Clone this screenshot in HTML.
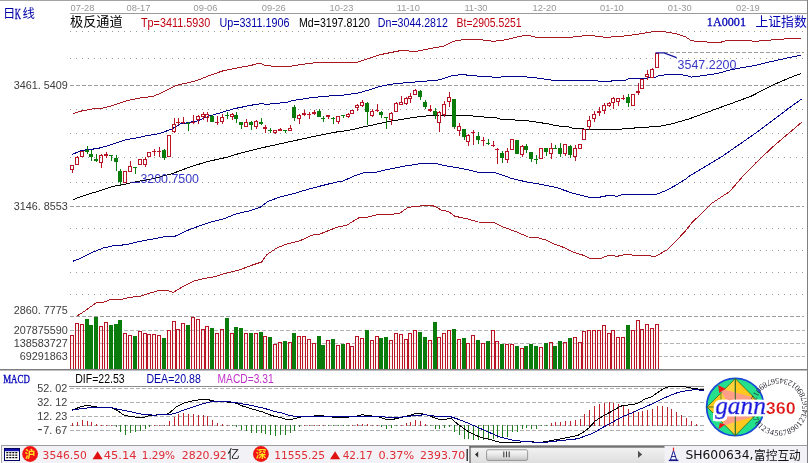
<!DOCTYPE html>
<html lang="zh"><head><meta charset="utf-8"><title>chart</title>
<style>
html,body{margin:0;padding:0;background:#fff;overflow:hidden}
svg{display:block}
.ls{font-family:"Liberation Sans",sans-serif}
.dv{font-family:"DejaVu Sans","Liberation Sans",sans-serif}
.sf{font-family:"Liberation Serif","Noto Serif CJK SC",serif}
.cj{font-family:"Liberation Serif","Noto Sans CJK SC",sans-serif}
.cs{font-family:"DejaVu Sans","Noto Sans CJK SC",sans-serif}
</style></head><body>
<svg width="809" height="463" viewBox="0 0 809 463">
<rect x="0" y="0" width="809" height="463" fill="#ffffff"/>
<line x1="0" y1="0.5" x2="807" y2="0.5" stroke="#a4a4a4" stroke-width="1"/>
<line x1="70" y1="13.5" x2="807" y2="13.5" stroke="#9a9a9a" stroke-width="1"/>
<line x1="807.5" y1="0" x2="807.5" y2="463" stroke="#808080" stroke-width="1"/>
<rect x="71" y="336" width="2" height="33" fill="#fff2f2"/>
<rect x="76" y="324" width="2" height="45" fill="#fff2f2"/>
<rect x="81" y="325" width="2" height="44" fill="#fff2f2"/>
<rect x="100" y="327" width="2" height="42" fill="#fff2f2"/>
<rect x="105" y="323" width="2" height="46" fill="#fff2f2"/>
<rect x="124" y="334" width="2" height="35" fill="#fff2f2"/>
<rect x="129" y="336" width="2" height="33" fill="#fff2f2"/>
<rect x="139" y="332" width="2" height="37" fill="#fff2f2"/>
<rect x="144" y="334" width="2" height="35" fill="#fff2f2"/>
<rect x="148" y="335" width="2" height="34" fill="#fff2f2"/>
<rect x="153" y="335" width="2" height="34" fill="#fff2f2"/>
<rect x="158" y="336" width="2" height="33" fill="#fff2f2"/>
<rect x="168" y="331" width="2" height="38" fill="#fff2f2"/>
<rect x="173" y="322" width="2" height="47" fill="#fff2f2"/>
<rect x="177" y="330" width="2" height="39" fill="#fff2f2"/>
<rect x="182" y="324" width="2" height="45" fill="#fff2f2"/>
<rect x="192" y="318" width="2" height="51" fill="#fff2f2"/>
<rect x="197" y="320" width="2" height="49" fill="#fff2f2"/>
<rect x="202" y="330" width="2" height="39" fill="#fff2f2"/>
<rect x="206" y="327" width="2" height="42" fill="#fff2f2"/>
<rect x="216" y="334" width="2" height="35" fill="#fff2f2"/>
<rect x="221" y="330" width="2" height="39" fill="#fff2f2"/>
<rect x="231" y="334" width="2" height="35" fill="#fff2f2"/>
<rect x="245" y="334" width="2" height="35" fill="#fff2f2"/>
<rect x="255" y="334" width="2" height="35" fill="#fff2f2"/>
<rect x="264" y="337" width="2" height="32" fill="#fff2f2"/>
<rect x="274" y="345" width="2" height="24" fill="#fff2f2"/>
<rect x="279" y="343" width="2" height="26" fill="#fff2f2"/>
<rect x="289" y="343" width="2" height="26" fill="#fff2f2"/>
<rect x="298" y="337" width="2" height="32" fill="#fff2f2"/>
<rect x="303" y="337" width="2" height="32" fill="#fff2f2"/>
<rect x="308" y="340" width="2" height="29" fill="#fff2f2"/>
<rect x="313" y="344" width="2" height="25" fill="#fff2f2"/>
<rect x="327" y="341" width="2" height="28" fill="#fff2f2"/>
<rect x="337" y="346" width="2" height="23" fill="#fff2f2"/>
<rect x="347" y="344" width="2" height="25" fill="#fff2f2"/>
<rect x="351" y="347" width="2" height="22" fill="#fff2f2"/>
<rect x="356" y="337" width="2" height="32" fill="#fff2f2"/>
<rect x="361" y="339" width="2" height="30" fill="#fff2f2"/>
<rect x="371" y="341" width="2" height="28" fill="#fff2f2"/>
<rect x="376" y="337" width="2" height="32" fill="#fff2f2"/>
<rect x="390" y="341" width="2" height="28" fill="#fff2f2"/>
<rect x="395" y="334" width="2" height="35" fill="#fff2f2"/>
<rect x="400" y="335" width="2" height="34" fill="#fff2f2"/>
<rect x="405" y="340" width="2" height="29" fill="#fff2f2"/>
<rect x="409" y="334" width="2" height="35" fill="#fff2f2"/>
<rect x="414" y="331" width="2" height="38" fill="#fff2f2"/>
<rect x="429" y="341" width="2" height="28" fill="#fff2f2"/>
<rect x="438" y="338" width="2" height="31" fill="#fff2f2"/>
<rect x="443" y="334" width="2" height="35" fill="#fff2f2"/>
<rect x="448" y="331" width="2" height="38" fill="#fff2f2"/>
<rect x="458" y="340" width="2" height="29" fill="#fff2f2"/>
<rect x="467" y="344" width="2" height="25" fill="#fff2f2"/>
<rect x="472" y="336" width="2" height="33" fill="#fff2f2"/>
<rect x="482" y="344" width="2" height="25" fill="#fff2f2"/>
<rect x="492" y="331" width="2" height="38" fill="#fff2f2"/>
<rect x="496" y="342" width="2" height="27" fill="#fff2f2"/>
<rect x="506" y="345" width="2" height="24" fill="#fff2f2"/>
<rect x="511" y="345" width="2" height="24" fill="#fff2f2"/>
<rect x="521" y="349" width="2" height="20" fill="#fff2f2"/>
<rect x="540" y="348" width="2" height="21" fill="#fff2f2"/>
<rect x="550" y="343" width="2" height="26" fill="#fff2f2"/>
<rect x="564" y="343" width="2" height="26" fill="#fff2f2"/>
<rect x="574" y="338" width="2" height="31" fill="#fff2f2"/>
<rect x="579" y="343" width="2" height="26" fill="#fff2f2"/>
<rect x="583" y="332" width="2" height="37" fill="#fff2f2"/>
<rect x="588" y="331" width="2" height="38" fill="#fff2f2"/>
<rect x="593" y="331" width="2" height="38" fill="#fff2f2"/>
<rect x="598" y="331" width="2" height="38" fill="#fff2f2"/>
<rect x="603" y="326" width="2" height="43" fill="#fff2f2"/>
<rect x="608" y="334" width="2" height="35" fill="#fff2f2"/>
<rect x="612" y="331" width="2" height="38" fill="#fff2f2"/>
<rect x="617" y="338" width="2" height="31" fill="#fff2f2"/>
<rect x="622" y="338" width="2" height="31" fill="#fff2f2"/>
<rect x="632" y="331" width="2" height="38" fill="#fff2f2"/>
<rect x="637" y="321" width="2" height="48" fill="#fff2f2"/>
<rect x="641" y="330" width="2" height="39" fill="#fff2f2"/>
<rect x="646" y="325" width="2" height="44" fill="#fff2f2"/>
<rect x="651" y="329" width="2" height="40" fill="#fff2f2"/>
<rect x="656" y="325" width="2" height="44" fill="#fff2f2"/>
<line x1="70" y1="31.5" x2="804" y2="31.5" stroke="#9a9a9a" stroke-width="1" stroke-dasharray="1,5"/>
<line x1="70" y1="58.5" x2="804" y2="58.5" stroke="#9a9a9a" stroke-width="1" stroke-dasharray="1,5"/>
<line x1="70" y1="109.5" x2="804" y2="109.5" stroke="#9a9a9a" stroke-width="1" stroke-dasharray="1,5"/>
<line x1="70" y1="133.5" x2="804" y2="133.5" stroke="#9a9a9a" stroke-width="1" stroke-dasharray="1,5"/>
<line x1="70" y1="157.5" x2="804" y2="157.5" stroke="#9a9a9a" stroke-width="1" stroke-dasharray="1,5"/>
<line x1="70" y1="182.5" x2="804" y2="182.5" stroke="#9a9a9a" stroke-width="1" stroke-dasharray="1,5"/>
<line x1="70" y1="228.5" x2="804" y2="228.5" stroke="#9a9a9a" stroke-width="1" stroke-dasharray="1,5"/>
<line x1="70" y1="250.5" x2="804" y2="250.5" stroke="#9a9a9a" stroke-width="1" stroke-dasharray="1,5"/>
<line x1="70" y1="272.5" x2="804" y2="272.5" stroke="#9a9a9a" stroke-width="1" stroke-dasharray="1,5"/>
<line x1="70" y1="294.5" x2="804" y2="294.5" stroke="#9a9a9a" stroke-width="1" stroke-dasharray="1,5"/>
<line x1="70" y1="85.5" x2="804" y2="85.5" stroke="#9c9c9c" stroke-width="1" stroke-dasharray="4,2"/>
<line x1="70" y1="206.5" x2="804" y2="206.5" stroke="#9c9c9c" stroke-width="1" stroke-dasharray="4,2"/>
<line x1="70" y1="316.5" x2="804" y2="316.5" stroke="#9c9c9c" stroke-width="1" stroke-dasharray="4,2"/>
<line x1="70" y1="330.5" x2="805" y2="330.5" stroke="#b4b4b4" stroke-width="1" stroke-dasharray="4,2"/>
<line x1="70" y1="343.5" x2="805" y2="343.5" stroke="#b4b4b4" stroke-width="1" stroke-dasharray="4,2"/>
<line x1="70" y1="356.5" x2="805" y2="356.5" stroke="#b4b4b4" stroke-width="1" stroke-dasharray="4,2"/>
<line x1="664" y1="52.5" x2="804" y2="52.5" stroke="#9c9c9c" stroke-width="1" stroke-dasharray="4,2"/>
<line x1="69" y1="386.5" x2="806" y2="386.5" stroke="#8c8c8c" stroke-width="1"/>
<line x1="70" y1="388.5" x2="806" y2="388.5" stroke="#b0b0b0" stroke-width="1" stroke-dasharray="4,2"/>
<line x1="70" y1="402.5" x2="806" y2="402.5" stroke="#b0b0b0" stroke-width="1" stroke-dasharray="4,2"/>
<line x1="70" y1="416.5" x2="806" y2="416.5" stroke="#b0b0b0" stroke-width="1" stroke-dasharray="4,2"/>
<line x1="70" y1="430.5" x2="806" y2="430.5" stroke="#b0b0b0" stroke-width="1" stroke-dasharray="4,2"/>
<g shape-rendering="crispEdges">
<rect x="70.5" y="335.5" width="3" height="33.5" fill="none" stroke="#b81426" stroke-width="1"/>
<rect x="75.5" y="323.5" width="3" height="45.5" fill="none" stroke="#b81426" stroke-width="1"/>
<rect x="80.5" y="324.5" width="3" height="44.5" fill="none" stroke="#b81426" stroke-width="1"/>
<rect x="85" y="319" width="4" height="50" fill="#0a7c0c"/>
<rect x="89" y="325" width="4" height="44" fill="#0a7c0c"/>
<rect x="94" y="317" width="4" height="52" fill="#0a7c0c"/>
<rect x="99.5" y="326.5" width="3" height="42.5" fill="none" stroke="#b81426" stroke-width="1"/>
<rect x="104.5" y="322.5" width="3" height="46.5" fill="none" stroke="#b81426" stroke-width="1"/>
<rect x="109" y="325" width="4" height="44" fill="#0a7c0c"/>
<rect x="114" y="324" width="4" height="45" fill="#0a7c0c"/>
<rect x="118" y="320" width="4" height="49" fill="#0a7c0c"/>
<rect x="123.5" y="333.5" width="3" height="35.5" fill="none" stroke="#b81426" stroke-width="1"/>
<rect x="128.5" y="335.5" width="3" height="33.5" fill="none" stroke="#b81426" stroke-width="1"/>
<rect x="133" y="336" width="4" height="33" fill="#0a7c0c"/>
<rect x="138.5" y="331.5" width="3" height="37.5" fill="none" stroke="#b81426" stroke-width="1"/>
<rect x="143.5" y="333.5" width="3" height="35.5" fill="none" stroke="#b81426" stroke-width="1"/>
<rect x="147.5" y="334.5" width="3" height="34.5" fill="none" stroke="#b81426" stroke-width="1"/>
<rect x="152.5" y="334.5" width="3" height="34.5" fill="none" stroke="#b81426" stroke-width="1"/>
<rect x="157.5" y="335.5" width="3" height="33.5" fill="none" stroke="#b81426" stroke-width="1"/>
<rect x="162" y="338" width="4" height="31" fill="#0a7c0c"/>
<rect x="167.5" y="330.5" width="3" height="38.5" fill="none" stroke="#b81426" stroke-width="1"/>
<rect x="172.5" y="321.5" width="3" height="47.5" fill="none" stroke="#b81426" stroke-width="1"/>
<rect x="176.5" y="329.5" width="3" height="39.5" fill="none" stroke="#b81426" stroke-width="1"/>
<rect x="181.5" y="323.5" width="3" height="45.5" fill="none" stroke="#b81426" stroke-width="1"/>
<rect x="186" y="325" width="4" height="44" fill="#0a7c0c"/>
<rect x="191.5" y="317.5" width="3" height="51.5" fill="none" stroke="#b81426" stroke-width="1"/>
<rect x="196.5" y="319.5" width="3" height="49.5" fill="none" stroke="#b81426" stroke-width="1"/>
<rect x="201.5" y="329.5" width="3" height="39.5" fill="none" stroke="#b81426" stroke-width="1"/>
<rect x="205.5" y="326.5" width="3" height="42.5" fill="none" stroke="#b81426" stroke-width="1"/>
<rect x="210" y="328" width="4" height="41" fill="#0a7c0c"/>
<rect x="215.5" y="333.5" width="3" height="35.5" fill="none" stroke="#b81426" stroke-width="1"/>
<rect x="220.5" y="329.5" width="3" height="39.5" fill="none" stroke="#b81426" stroke-width="1"/>
<rect x="225" y="318" width="4" height="51" fill="#0a7c0c"/>
<rect x="230.5" y="333.5" width="3" height="35.5" fill="none" stroke="#b81426" stroke-width="1"/>
<rect x="234" y="327" width="4" height="42" fill="#0a7c0c"/>
<rect x="239" y="328" width="4" height="41" fill="#0a7c0c"/>
<rect x="244.5" y="333.5" width="3" height="35.5" fill="none" stroke="#b81426" stroke-width="1"/>
<rect x="249" y="333" width="4" height="36" fill="#0a7c0c"/>
<rect x="254.5" y="333.5" width="3" height="35.5" fill="none" stroke="#b81426" stroke-width="1"/>
<rect x="259" y="332" width="4" height="37" fill="#0a7c0c"/>
<rect x="263.5" y="336.5" width="3" height="32.5" fill="none" stroke="#b81426" stroke-width="1"/>
<rect x="268" y="337" width="4" height="32" fill="#0a7c0c"/>
<rect x="273.5" y="344.5" width="3" height="24.5" fill="none" stroke="#b81426" stroke-width="1"/>
<rect x="278.5" y="342.5" width="3" height="26.5" fill="none" stroke="#b81426" stroke-width="1"/>
<rect x="283" y="341" width="4" height="28" fill="#0a7c0c"/>
<rect x="288.5" y="342.5" width="3" height="26.5" fill="none" stroke="#b81426" stroke-width="1"/>
<rect x="292" y="333" width="4" height="36" fill="#0a7c0c"/>
<rect x="297.5" y="336.5" width="3" height="32.5" fill="none" stroke="#b81426" stroke-width="1"/>
<rect x="302.5" y="336.5" width="3" height="32.5" fill="none" stroke="#b81426" stroke-width="1"/>
<rect x="307.5" y="339.5" width="3" height="29.5" fill="none" stroke="#b81426" stroke-width="1"/>
<rect x="312.5" y="343.5" width="3" height="25.5" fill="none" stroke="#b81426" stroke-width="1"/>
<rect x="317" y="336" width="4" height="33" fill="#0a7c0c"/>
<rect x="321" y="345" width="4" height="24" fill="#0a7c0c"/>
<rect x="326.5" y="340.5" width="3" height="28.5" fill="none" stroke="#b81426" stroke-width="1"/>
<rect x="331" y="339" width="4" height="30" fill="#0a7c0c"/>
<rect x="336.5" y="345.5" width="3" height="23.5" fill="none" stroke="#b81426" stroke-width="1"/>
<rect x="341" y="344" width="4" height="25" fill="#0a7c0c"/>
<rect x="346.5" y="343.5" width="3" height="25.5" fill="none" stroke="#b81426" stroke-width="1"/>
<rect x="350.5" y="346.5" width="3" height="22.5" fill="none" stroke="#b81426" stroke-width="1"/>
<rect x="355.5" y="336.5" width="3" height="32.5" fill="none" stroke="#b81426" stroke-width="1"/>
<rect x="360.5" y="338.5" width="3" height="30.5" fill="none" stroke="#b81426" stroke-width="1"/>
<rect x="365" y="330" width="4" height="39" fill="#0a7c0c"/>
<rect x="370.5" y="340.5" width="3" height="28.5" fill="none" stroke="#b81426" stroke-width="1"/>
<rect x="375.5" y="336.5" width="3" height="32.5" fill="none" stroke="#b81426" stroke-width="1"/>
<rect x="379" y="338" width="4" height="31" fill="#0a7c0c"/>
<rect x="384" y="337" width="4" height="32" fill="#0a7c0c"/>
<rect x="389.5" y="340.5" width="3" height="28.5" fill="none" stroke="#b81426" stroke-width="1"/>
<rect x="394.5" y="333.5" width="3" height="35.5" fill="none" stroke="#b81426" stroke-width="1"/>
<rect x="399.5" y="334.5" width="3" height="34.5" fill="none" stroke="#b81426" stroke-width="1"/>
<rect x="404.5" y="339.5" width="3" height="29.5" fill="none" stroke="#b81426" stroke-width="1"/>
<rect x="408.5" y="333.5" width="3" height="35.5" fill="none" stroke="#b81426" stroke-width="1"/>
<rect x="413.5" y="330.5" width="3" height="38.5" fill="none" stroke="#b81426" stroke-width="1"/>
<rect x="418" y="332" width="4" height="37" fill="#0a7c0c"/>
<rect x="423" y="337" width="4" height="32" fill="#0a7c0c"/>
<rect x="428.5" y="340.5" width="3" height="28.5" fill="none" stroke="#b81426" stroke-width="1"/>
<rect x="433" y="322" width="4" height="47" fill="#0a7c0c"/>
<rect x="437.5" y="337.5" width="3" height="31.5" fill="none" stroke="#b81426" stroke-width="1"/>
<rect x="442.5" y="333.5" width="3" height="35.5" fill="none" stroke="#b81426" stroke-width="1"/>
<rect x="447.5" y="330.5" width="3" height="38.5" fill="none" stroke="#b81426" stroke-width="1"/>
<rect x="452" y="329" width="4" height="40" fill="#0a7c0c"/>
<rect x="457.5" y="339.5" width="3" height="29.5" fill="none" stroke="#b81426" stroke-width="1"/>
<rect x="462" y="338" width="4" height="31" fill="#0a7c0c"/>
<rect x="466.5" y="343.5" width="3" height="25.5" fill="none" stroke="#b81426" stroke-width="1"/>
<rect x="471.5" y="335.5" width="3" height="33.5" fill="none" stroke="#b81426" stroke-width="1"/>
<rect x="476" y="340" width="4" height="29" fill="#0a7c0c"/>
<rect x="481.5" y="343.5" width="3" height="25.5" fill="none" stroke="#b81426" stroke-width="1"/>
<rect x="486" y="341" width="4" height="28" fill="#0a7c0c"/>
<rect x="491.5" y="330.5" width="3" height="38.5" fill="none" stroke="#b81426" stroke-width="1"/>
<rect x="495.5" y="341.5" width="3" height="27.5" fill="none" stroke="#b81426" stroke-width="1"/>
<rect x="500" y="344" width="4" height="25" fill="#0a7c0c"/>
<rect x="505.5" y="344.5" width="3" height="24.5" fill="none" stroke="#b81426" stroke-width="1"/>
<rect x="510.5" y="344.5" width="3" height="24.5" fill="none" stroke="#b81426" stroke-width="1"/>
<rect x="515" y="346" width="4" height="23" fill="#0a7c0c"/>
<rect x="520.5" y="348.5" width="3" height="20.5" fill="none" stroke="#b81426" stroke-width="1"/>
<rect x="524" y="346" width="4" height="23" fill="#0a7c0c"/>
<rect x="529" y="344" width="4" height="25" fill="#0a7c0c"/>
<rect x="534" y="346" width="4" height="23" fill="#0a7c0c"/>
<rect x="539.5" y="347.5" width="3" height="21.5" fill="none" stroke="#b81426" stroke-width="1"/>
<rect x="544" y="343" width="4" height="26" fill="#0a7c0c"/>
<rect x="549.5" y="342.5" width="3" height="26.5" fill="none" stroke="#b81426" stroke-width="1"/>
<rect x="553" y="346" width="4" height="23" fill="#0a7c0c"/>
<rect x="558" y="341" width="4" height="28" fill="#0a7c0c"/>
<rect x="563.5" y="342.5" width="3" height="26.5" fill="none" stroke="#b81426" stroke-width="1"/>
<rect x="568" y="338" width="4" height="31" fill="#0a7c0c"/>
<rect x="573.5" y="337.5" width="3" height="31.5" fill="none" stroke="#b81426" stroke-width="1"/>
<rect x="578.5" y="342.5" width="3" height="26.5" fill="none" stroke="#b81426" stroke-width="1"/>
<rect x="582.5" y="331.5" width="3" height="37.5" fill="none" stroke="#b81426" stroke-width="1"/>
<rect x="587.5" y="330.5" width="3" height="38.5" fill="none" stroke="#b81426" stroke-width="1"/>
<rect x="592.5" y="330.5" width="3" height="38.5" fill="none" stroke="#b81426" stroke-width="1"/>
<rect x="597.5" y="330.5" width="3" height="38.5" fill="none" stroke="#b81426" stroke-width="1"/>
<rect x="602.5" y="325.5" width="3" height="43.5" fill="none" stroke="#b81426" stroke-width="1"/>
<rect x="607.5" y="333.5" width="3" height="35.5" fill="none" stroke="#b81426" stroke-width="1"/>
<rect x="611.5" y="330.5" width="3" height="38.5" fill="none" stroke="#b81426" stroke-width="1"/>
<rect x="616.5" y="337.5" width="3" height="31.5" fill="none" stroke="#b81426" stroke-width="1"/>
<rect x="621.5" y="337.5" width="3" height="31.5" fill="none" stroke="#b81426" stroke-width="1"/>
<rect x="626" y="325" width="4" height="44" fill="#0a7c0c"/>
<rect x="631.5" y="330.5" width="3" height="38.5" fill="none" stroke="#b81426" stroke-width="1"/>
<rect x="636.5" y="320.5" width="3" height="48.5" fill="none" stroke="#b81426" stroke-width="1"/>
<rect x="640.5" y="329.5" width="3" height="39.5" fill="none" stroke="#b81426" stroke-width="1"/>
<rect x="645.5" y="324.5" width="3" height="44.5" fill="none" stroke="#b81426" stroke-width="1"/>
<rect x="650.5" y="328.5" width="3" height="40.5" fill="none" stroke="#b81426" stroke-width="1"/>
<rect x="655.5" y="324.5" width="3" height="44.5" fill="none" stroke="#b81426" stroke-width="1"/>
</g>
<line x1="0" y1="369.8" x2="807" y2="369.8" stroke="#7e7e7e" stroke-width="1.6"/>
<clipPath id="cp"><rect x="70" y="14" width="733" height="302.5"/></clipPath>
<g clip-path="url(#cp)" shape-rendering="crispEdges">
<polyline points="72.7,114 80,111.3 93.3,108.7 103.3,108 113.3,105.3 126.7,100.7 140,98 153.3,96.3 163.3,92 176.7,85.3 186.7,83 196.7,80.7 210,75.3 223.3,70.7 236.7,68 250,65.7 260,63 265,65.7 276.7,66.3 290,66.3 300,64.7 313.3,63 320,62 329.7,63 336.7,62.3 356.7,62.3 363.3,60.3 380,54.7 400,50.7 416.7,51.3 433.3,48 443.3,46.3 453.3,41.3 463.3,39.7 480,39.7 493.3,41.3 506.7,39.7 520,36.3 528.3,35.3 536.7,37.3 553.3,38 570,37.3 589,35.3 605.7,37.3 622.3,36.3 639,34 655.7,31.3 665.7,32 675.5,33.5 685.4,36.8 691.3,40.8 709,42.2 720.8,42.2 728.6,40.2 748.3,40.2 754,41.4 777.8,39.4 787.6,38.8 801.3,38.2" fill="none" stroke="#a81820" stroke-width="1" stroke-linejoin="round" />
<polyline points="76.7,316.3 86.7,309.7 96.7,302.3 101.7,303 110,299.7 120,299.7 130,297.3 140,296.3 150,293 160,290.3 166.7,290.3 173.3,292.3 183.3,286.3 193.3,281.3 203.3,278.7 213.3,277 226.7,273 240,269.7 253.3,264.7 261.7,262 266.7,254.7 276.7,248 286.7,244 300,240.7 313.3,234.7 320,234 336.7,227.3 346.7,225.3 360,217 366.7,217.3 380,214 390,214.7 400,213 408.3,207.3 420,206 430,205.3 435,206.3 441.7,210.3 448.3,211.3 455,216.3 466.7,218.7 478.3,222 493.3,222.3 503.3,227 516.7,232 528.3,237 536.7,237.3 546.7,240.3 553.3,243.7 563.3,247.3 573.3,252 583.3,255.3 589,258 599,259 609,255.3 617.3,256.3 624,254.7 639,255.3 655.7,256.3 667.3,249.7 675.7,241.3 685.7,230.7 692.3,222 702.3,213 712.3,203 722.3,196.3 729,192 735.7,184.7 741.3,178 755.7,163 772.3,147.3 789,133 801.7,122.3" fill="none" stroke="#a81820" stroke-width="1" stroke-linejoin="round" />
<polyline points="72.3,154.3 82,150.4 97.7,148.5 108.8,145.4 124.9,139.9 138.5,137.6 143.3,136.3 156.7,134 160,133.4 172,129 180,124.1 197,121 209.4,116 221.8,112.4 234,108.7 246.5,106.2 250,105.4 262.4,103.5 265,104.5 287,102.3 293,100.5 311.8,97.6 330,95.9 340,95.5 358.5,93 371,89.3 383,85.6 395.6,83.6 420,81.6 430,80.8 440,79.8 453.3,75.3 463.3,74.7 480,76.3 496.7,77.3 510,76.3 520,76.3 536.7,78 553.3,80.3 570,80.7 589.7,80.7 595,80.6 602,81.5 610.5,81.5 612.3,80.6 625,80.6 628,79 643,78.4 655,77.4 660,75.3 669,74.7 673.5,74.4 685.4,75.2 691.3,77.1 703,75.6 717,73.6 728.6,70.3 744,67.3 756,65.3 771.9,61.4 791.5,57.1 801.3,55.1" fill="none" stroke="#00008c" stroke-width="1" stroke-linejoin="round" />
<polyline points="72.7,261.3 80,258.7 93.3,252 103.3,248 113.3,245.7 126.7,244.7 140,241.3 153.3,239 166.7,236.3 175,236.3 186.7,230.7 200,225.7 213.3,221.3 223.3,219 236.7,213.7 250,210.7 260,207.3 268.3,201.3 280,197 293.3,193.7 310,188.7 323.3,185.3 336.7,182 341.7,181.7 353.3,176.3 363.3,173 376.7,172 386.7,169.7 403.3,166.3 420,163.7 433.3,163 443.3,165.3 460,168.2 472.4,170.7 478.5,172.5 494.6,172.5 506,176.2 510,178 526.7,182 539,184 555.7,187.3 572.3,193 589,197.3 599,197.3 609,195.3 617.3,196.3 624,194 639,194 657.3,194 665.7,190.7 675.7,185.3 687.3,178 689,176.3 705.7,166.3 722.3,156.3 739,144.7 755.7,133 772.3,120.7 789,108 801.7,99" fill="none" stroke="#00008c" stroke-width="1" stroke-linejoin="round" />
<polyline points="72.7,199.7 86.7,194.7 100,190.7 113.3,186.3 120,185.3 137.3,181.5 154.6,178.4 171.9,173.7 189.2,167.3 206.5,161.8 228,157 241.1,152.9 260,148.2 288.3,142 311.8,136.9 336.5,132 350,130.1 364.7,126.7 389.4,121.4 414,117.3 433,115.2 440,115 467,115.4 479.4,116.7 497,117.9 500,119 514,119.9 530,121.1 535,121.9 550,124.1 556,125.7 568.5,126.9 573.5,128.4 590,129.4 620,129.4 624,128.4 640,127.8 650,126.9 655.7,127 672.3,123.7 690,118.6 701,114.5 722.7,106.6 739,100.7 752,95.8 772.3,85.3 789,78 801.3,73.4" fill="none" stroke="#000000" stroke-width="1" stroke-linejoin="round" />
</g>
<g shape-rendering="crispEdges">
<rect x="72" y="170" width="1" height="3" fill="#b81426"/>
<rect x="70.5" y="165.5" width="3" height="4" fill="none" stroke="#b81426" stroke-width="1"/>
<rect x="77" y="156" width="1" height="1" fill="#b81426"/>
<rect x="75.5" y="157.5" width="3" height="7" fill="none" stroke="#b81426" stroke-width="1"/>
<rect x="80.5" y="151.5" width="3" height="5" fill="none" stroke="#b81426" stroke-width="1"/>
<rect x="87" y="146" width="1" height="8" fill="#0a7c0c"/>
<rect x="85" y="150" width="4" height="2" fill="#0a7c0c"/>
<rect x="91" y="150" width="1" height="11" fill="#0a7c0c"/>
<rect x="89" y="154" width="4" height="3" fill="#0a7c0c"/>
<rect x="96" y="154" width="1" height="8" fill="#0a7c0c"/>
<rect x="94" y="159" width="4" height="2" fill="#0a7c0c"/>
<rect x="101" y="154" width="1" height="1" fill="#b81426"/>
<rect x="101" y="163" width="1" height="5" fill="#b81426"/>
<rect x="99.5" y="155.5" width="3" height="7" fill="none" stroke="#b81426" stroke-width="1"/>
<rect x="106" y="152" width="1" height="6" fill="#b81426"/>
<rect x="104" y="154" width="4" height="2" fill="#b81426"/>
<rect x="111" y="155" width="1" height="6" fill="#0a7c0c"/>
<rect x="109" y="155" width="4" height="1" fill="#0a7c0c"/>
<rect x="116" y="155" width="1" height="16" fill="#0a7c0c"/>
<rect x="114" y="158" width="4" height="4" fill="#0a7c0c"/>
<rect x="120" y="169" width="1" height="16" fill="#0a7c0c"/>
<rect x="118" y="171" width="4" height="11" fill="#0a7c0c"/>
<rect x="123.5" y="171.5" width="3" height="11" fill="none" stroke="#b81426" stroke-width="1"/>
<rect x="130" y="161" width="1" height="5" fill="#b81426"/>
<rect x="128.5" y="166.5" width="3" height="5" fill="none" stroke="#b81426" stroke-width="1"/>
<rect x="135" y="167" width="1" height="7" fill="#0a7c0c"/>
<rect x="133" y="167" width="4" height="1" fill="#0a7c0c"/>
<rect x="138.5" y="159.5" width="3" height="5" fill="none" stroke="#b81426" stroke-width="1"/>
<rect x="145" y="157" width="1" height="2" fill="#b81426"/>
<rect x="145" y="165" width="1" height="2" fill="#b81426"/>
<rect x="143.5" y="159.5" width="3" height="5" fill="none" stroke="#b81426" stroke-width="1"/>
<rect x="147.5" y="152.5" width="3" height="4" fill="none" stroke="#b81426" stroke-width="1"/>
<rect x="154" y="149" width="1" height="7" fill="#b81426"/>
<rect x="152" y="151" width="4" height="1" fill="#b81426"/>
<rect x="159" y="147" width="1" height="10" fill="#b81426"/>
<rect x="157" y="151" width="4" height="1" fill="#b81426"/>
<rect x="164" y="149" width="1" height="11" fill="#0a7c0c"/>
<rect x="162" y="150" width="4" height="8" fill="#0a7c0c"/>
<rect x="167.5" y="135.5" width="3" height="21" fill="none" stroke="#b81426" stroke-width="1"/>
<rect x="174" y="118" width="1" height="6" fill="#b81426"/>
<rect x="174" y="132" width="1" height="1" fill="#b81426"/>
<rect x="172.5" y="124.5" width="3" height="7" fill="none" stroke="#b81426" stroke-width="1"/>
<rect x="178" y="118" width="1" height="7" fill="#b81426"/>
<rect x="176" y="122" width="4" height="1" fill="#b81426"/>
<rect x="183" y="117" width="1" height="7" fill="#b81426"/>
<rect x="181" y="122" width="4" height="1" fill="#b81426"/>
<rect x="188" y="122" width="1" height="9" fill="#0a7c0c"/>
<rect x="186" y="123" width="4" height="1" fill="#0a7c0c"/>
<rect x="193" y="115" width="1" height="9" fill="#b81426"/>
<rect x="191" y="122" width="4" height="1" fill="#b81426"/>
<rect x="198" y="115" width="1" height="1" fill="#b81426"/>
<rect x="198" y="120" width="1" height="4" fill="#b81426"/>
<rect x="196.5" y="116.5" width="3" height="3" fill="none" stroke="#b81426" stroke-width="1"/>
<rect x="203" y="112" width="1" height="2" fill="#b81426"/>
<rect x="203" y="117" width="1" height="3" fill="#b81426"/>
<rect x="201.5" y="114.5" width="3" height="2" fill="none" stroke="#b81426" stroke-width="1"/>
<rect x="207" y="112" width="1" height="2" fill="#b81426"/>
<rect x="207" y="118" width="1" height="4" fill="#b81426"/>
<rect x="205.5" y="114.5" width="3" height="3" fill="none" stroke="#b81426" stroke-width="1"/>
<rect x="212" y="115" width="1" height="7" fill="#0a7c0c"/>
<rect x="210" y="116" width="4" height="6" fill="#0a7c0c"/>
<rect x="217" y="116" width="1" height="9" fill="#b81426"/>
<rect x="215" y="122" width="4" height="1" fill="#b81426"/>
<rect x="222" y="114" width="1" height="3" fill="#b81426"/>
<rect x="222" y="122" width="1" height="2" fill="#b81426"/>
<rect x="220.5" y="117.5" width="3" height="4" fill="none" stroke="#b81426" stroke-width="1"/>
<rect x="227" y="112" width="1" height="7" fill="#0a7c0c"/>
<rect x="225" y="115" width="4" height="1" fill="#0a7c0c"/>
<rect x="232" y="113" width="1" height="1" fill="#b81426"/>
<rect x="232" y="117" width="1" height="3" fill="#b81426"/>
<rect x="230.5" y="114.5" width="3" height="2" fill="none" stroke="#b81426" stroke-width="1"/>
<rect x="236" y="112" width="1" height="11" fill="#0a7c0c"/>
<rect x="234" y="115" width="4" height="4" fill="#0a7c0c"/>
<rect x="241" y="122" width="1" height="7" fill="#0a7c0c"/>
<rect x="239" y="122" width="4" height="3" fill="#0a7c0c"/>
<rect x="246" y="119" width="1" height="3" fill="#b81426"/>
<rect x="244.5" y="122.5" width="3" height="4" fill="none" stroke="#b81426" stroke-width="1"/>
<rect x="251" y="121" width="1" height="9" fill="#0a7c0c"/>
<rect x="249" y="122" width="4" height="3" fill="#0a7c0c"/>
<rect x="256" y="120" width="1" height="1" fill="#b81426"/>
<rect x="256" y="127" width="1" height="2" fill="#b81426"/>
<rect x="254.5" y="121.5" width="3" height="5" fill="none" stroke="#b81426" stroke-width="1"/>
<rect x="261" y="118" width="1" height="7" fill="#0a7c0c"/>
<rect x="259" y="122" width="4" height="2" fill="#0a7c0c"/>
<rect x="265" y="125" width="1" height="8" fill="#b81426"/>
<rect x="263" y="127" width="4" height="2" fill="#b81426"/>
<rect x="270" y="128" width="1" height="5" fill="#0a7c0c"/>
<rect x="268" y="130" width="4" height="1" fill="#0a7c0c"/>
<rect x="275" y="133" width="1" height="1" fill="#b81426"/>
<rect x="273.5" y="130.5" width="3" height="2" fill="none" stroke="#b81426" stroke-width="1"/>
<rect x="280" y="128" width="1" height="3" fill="#b81426"/>
<rect x="278" y="129" width="4" height="2" fill="#b81426"/>
<rect x="285" y="131" width="1" height="2" fill="#0a7c0c"/>
<rect x="283" y="130" width="4" height="1" fill="#0a7c0c"/>
<rect x="290" y="125" width="1" height="3" fill="#b81426"/>
<rect x="288.5" y="128.5" width="3" height="2" fill="none" stroke="#b81426" stroke-width="1"/>
<rect x="294" y="105" width="1" height="16" fill="#0a7c0c"/>
<rect x="292" y="107" width="4" height="11" fill="#0a7c0c"/>
<rect x="299" y="114" width="1" height="1" fill="#b81426"/>
<rect x="299" y="119" width="1" height="5" fill="#b81426"/>
<rect x="297.5" y="115.5" width="3" height="3" fill="none" stroke="#b81426" stroke-width="1"/>
<rect x="304" y="110" width="1" height="6" fill="#b81426"/>
<rect x="302" y="113" width="4" height="2" fill="#b81426"/>
<rect x="309" y="112" width="1" height="7" fill="#b81426"/>
<rect x="307" y="114" width="4" height="1" fill="#b81426"/>
<rect x="314" y="110" width="1" height="5" fill="#b81426"/>
<rect x="312" y="112" width="4" height="2" fill="#b81426"/>
<rect x="319" y="109" width="1" height="8" fill="#0a7c0c"/>
<rect x="317" y="111" width="4" height="6" fill="#0a7c0c"/>
<rect x="323" y="116" width="1" height="6" fill="#0a7c0c"/>
<rect x="321" y="118" width="4" height="1" fill="#0a7c0c"/>
<rect x="328" y="117" width="1" height="2" fill="#b81426"/>
<rect x="326.5" y="115.5" width="3" height="1" fill="none" stroke="#b81426" stroke-width="1"/>
<rect x="333" y="117" width="1" height="7" fill="#0a7c0c"/>
<rect x="331" y="118" width="4" height="1" fill="#0a7c0c"/>
<rect x="338" y="122" width="1" height="2" fill="#b81426"/>
<rect x="336.5" y="116.5" width="3" height="5" fill="none" stroke="#b81426" stroke-width="1"/>
<rect x="343" y="115" width="1" height="3" fill="#0a7c0c"/>
<rect x="341" y="115" width="4" height="1" fill="#0a7c0c"/>
<rect x="348" y="113" width="1" height="1" fill="#b81426"/>
<rect x="348" y="117" width="1" height="1" fill="#b81426"/>
<rect x="346.5" y="114.5" width="3" height="2" fill="none" stroke="#b81426" stroke-width="1"/>
<rect x="350.5" y="110.5" width="3" height="3" fill="none" stroke="#b81426" stroke-width="1"/>
<rect x="357" y="104" width="1" height="1" fill="#b81426"/>
<rect x="357" y="108" width="1" height="3" fill="#b81426"/>
<rect x="355.5" y="105.5" width="3" height="2" fill="none" stroke="#b81426" stroke-width="1"/>
<rect x="362" y="100" width="1" height="2" fill="#b81426"/>
<rect x="362" y="106" width="1" height="1" fill="#b81426"/>
<rect x="360.5" y="102.5" width="3" height="3" fill="none" stroke="#b81426" stroke-width="1"/>
<rect x="367" y="102" width="1" height="23" fill="#0a7c0c"/>
<rect x="365" y="103" width="4" height="9" fill="#0a7c0c"/>
<rect x="372" y="109" width="1" height="2" fill="#b81426"/>
<rect x="372" y="116" width="1" height="1" fill="#b81426"/>
<rect x="370.5" y="111.5" width="3" height="4" fill="none" stroke="#b81426" stroke-width="1"/>
<rect x="377" y="104" width="1" height="8" fill="#b81426"/>
<rect x="375" y="110" width="4" height="1" fill="#b81426"/>
<rect x="381" y="111" width="1" height="7" fill="#0a7c0c"/>
<rect x="379" y="112" width="4" height="3" fill="#0a7c0c"/>
<rect x="386" y="117" width="1" height="12" fill="#0a7c0c"/>
<rect x="384" y="117" width="4" height="1" fill="#0a7c0c"/>
<rect x="391" y="112" width="1" height="1" fill="#b81426"/>
<rect x="391" y="120" width="1" height="5" fill="#b81426"/>
<rect x="389.5" y="113.5" width="3" height="6" fill="none" stroke="#b81426" stroke-width="1"/>
<rect x="396" y="102" width="1" height="1" fill="#b81426"/>
<rect x="394.5" y="103.5" width="3" height="8" fill="none" stroke="#b81426" stroke-width="1"/>
<rect x="401" y="96" width="1" height="6" fill="#b81426"/>
<rect x="399.5" y="102.5" width="3" height="2" fill="none" stroke="#b81426" stroke-width="1"/>
<rect x="406" y="97" width="1" height="1" fill="#b81426"/>
<rect x="406" y="104" width="1" height="1" fill="#b81426"/>
<rect x="404.5" y="98.5" width="3" height="5" fill="none" stroke="#b81426" stroke-width="1"/>
<rect x="410" y="93" width="1" height="3" fill="#b81426"/>
<rect x="410" y="99" width="1" height="4" fill="#b81426"/>
<rect x="408.5" y="96.5" width="3" height="2" fill="none" stroke="#b81426" stroke-width="1"/>
<rect x="415" y="89" width="1" height="1" fill="#b81426"/>
<rect x="413.5" y="90.5" width="3" height="4" fill="none" stroke="#b81426" stroke-width="1"/>
<rect x="420" y="90" width="1" height="10" fill="#0a7c0c"/>
<rect x="418" y="91" width="4" height="6" fill="#0a7c0c"/>
<rect x="425" y="100" width="1" height="9" fill="#0a7c0c"/>
<rect x="423" y="102" width="4" height="5" fill="#0a7c0c"/>
<rect x="430" y="105" width="1" height="7" fill="#b81426"/>
<rect x="428" y="109" width="4" height="2" fill="#b81426"/>
<rect x="435" y="108" width="1" height="11" fill="#0a7c0c"/>
<rect x="433" y="111" width="4" height="4" fill="#0a7c0c"/>
<rect x="439" y="111" width="1" height="1" fill="#b81426"/>
<rect x="439" y="123" width="1" height="9" fill="#b81426"/>
<rect x="437.5" y="112.5" width="3" height="10" fill="none" stroke="#b81426" stroke-width="1"/>
<rect x="444" y="101" width="1" height="3" fill="#b81426"/>
<rect x="444" y="115" width="1" height="2" fill="#b81426"/>
<rect x="442.5" y="104.5" width="3" height="10" fill="none" stroke="#b81426" stroke-width="1"/>
<rect x="449" y="92" width="1" height="5" fill="#b81426"/>
<rect x="449" y="102" width="1" height="5" fill="#b81426"/>
<rect x="447.5" y="97.5" width="3" height="4" fill="none" stroke="#b81426" stroke-width="1"/>
<rect x="454" y="99" width="1" height="30" fill="#0a7c0c"/>
<rect x="452" y="99" width="4" height="28" fill="#0a7c0c"/>
<rect x="459" y="123" width="1" height="3" fill="#b81426"/>
<rect x="459" y="131" width="1" height="5" fill="#b81426"/>
<rect x="457.5" y="126.5" width="3" height="4" fill="none" stroke="#b81426" stroke-width="1"/>
<rect x="464" y="129" width="1" height="11" fill="#0a7c0c"/>
<rect x="462" y="129" width="4" height="8" fill="#0a7c0c"/>
<rect x="468" y="134" width="1" height="1" fill="#b81426"/>
<rect x="468" y="142" width="1" height="4" fill="#b81426"/>
<rect x="466.5" y="135.5" width="3" height="6" fill="none" stroke="#b81426" stroke-width="1"/>
<rect x="473" y="130" width="1" height="15" fill="#b81426"/>
<rect x="471" y="132" width="4" height="1" fill="#b81426"/>
<rect x="478" y="132" width="1" height="12" fill="#0a7c0c"/>
<rect x="476" y="136" width="4" height="4" fill="#0a7c0c"/>
<rect x="483" y="137" width="1" height="9" fill="#b81426"/>
<rect x="481" y="140" width="4" height="1" fill="#b81426"/>
<rect x="488" y="139" width="1" height="6" fill="#0a7c0c"/>
<rect x="486" y="143" width="4" height="1" fill="#0a7c0c"/>
<rect x="493" y="141" width="1" height="6" fill="#b81426"/>
<rect x="491" y="145" width="4" height="1" fill="#b81426"/>
<rect x="497" y="148" width="1" height="16" fill="#b81426"/>
<rect x="495" y="149" width="4" height="1" fill="#b81426"/>
<rect x="502" y="151" width="1" height="12" fill="#0a7c0c"/>
<rect x="500" y="153" width="4" height="5" fill="#0a7c0c"/>
<rect x="507" y="148" width="1" height="3" fill="#b81426"/>
<rect x="507" y="160" width="1" height="3" fill="#b81426"/>
<rect x="505.5" y="151.5" width="3" height="8" fill="none" stroke="#b81426" stroke-width="1"/>
<rect x="510.5" y="139.5" width="3" height="10" fill="none" stroke="#b81426" stroke-width="1"/>
<rect x="517" y="140" width="1" height="14" fill="#0a7c0c"/>
<rect x="515" y="140" width="4" height="14" fill="#0a7c0c"/>
<rect x="522" y="145" width="1" height="1" fill="#b81426"/>
<rect x="522" y="155" width="1" height="2" fill="#b81426"/>
<rect x="520.5" y="146.5" width="3" height="8" fill="none" stroke="#b81426" stroke-width="1"/>
<rect x="526" y="144" width="1" height="9" fill="#0a7c0c"/>
<rect x="524" y="146" width="4" height="4" fill="#0a7c0c"/>
<rect x="531" y="152" width="1" height="10" fill="#0a7c0c"/>
<rect x="529" y="152" width="4" height="7" fill="#0a7c0c"/>
<rect x="536" y="155" width="1" height="9" fill="#0a7c0c"/>
<rect x="534" y="159" width="4" height="1" fill="#0a7c0c"/>
<rect x="539.5" y="148.5" width="3" height="10" fill="none" stroke="#b81426" stroke-width="1"/>
<rect x="546" y="148" width="1" height="8" fill="#0a7c0c"/>
<rect x="544" y="148" width="4" height="4" fill="#0a7c0c"/>
<rect x="551" y="143" width="1" height="5" fill="#b81426"/>
<rect x="551" y="154" width="1" height="5" fill="#b81426"/>
<rect x="549.5" y="148.5" width="3" height="5" fill="none" stroke="#b81426" stroke-width="1"/>
<rect x="555" y="145" width="1" height="4" fill="#0a7c0c"/>
<rect x="553" y="148" width="4" height="1" fill="#0a7c0c"/>
<rect x="560" y="143" width="1" height="14" fill="#0a7c0c"/>
<rect x="558" y="148" width="4" height="6" fill="#0a7c0c"/>
<rect x="565" y="154" width="1" height="2" fill="#b81426"/>
<rect x="563.5" y="144.5" width="3" height="9" fill="none" stroke="#b81426" stroke-width="1"/>
<rect x="570" y="145" width="1" height="13" fill="#0a7c0c"/>
<rect x="568" y="146" width="4" height="9" fill="#0a7c0c"/>
<rect x="575" y="145" width="1" height="3" fill="#b81426"/>
<rect x="575" y="157" width="1" height="4" fill="#b81426"/>
<rect x="573.5" y="148.5" width="3" height="8" fill="none" stroke="#b81426" stroke-width="1"/>
<rect x="578.5" y="144.5" width="3" height="4" fill="none" stroke="#b81426" stroke-width="1"/>
<rect x="582.5" y="129.5" width="3" height="10" fill="none" stroke="#b81426" stroke-width="1"/>
<rect x="589" y="116" width="1" height="4" fill="#b81426"/>
<rect x="589" y="127" width="1" height="3" fill="#b81426"/>
<rect x="587.5" y="120.5" width="3" height="6" fill="none" stroke="#b81426" stroke-width="1"/>
<rect x="594" y="111" width="1" height="3" fill="#b81426"/>
<rect x="594" y="119" width="1" height="3" fill="#b81426"/>
<rect x="592.5" y="114.5" width="3" height="4" fill="none" stroke="#b81426" stroke-width="1"/>
<rect x="599" y="107" width="1" height="9" fill="#b81426"/>
<rect x="597" y="111" width="4" height="2" fill="#b81426"/>
<rect x="604" y="103" width="1" height="2" fill="#b81426"/>
<rect x="604" y="111" width="1" height="3" fill="#b81426"/>
<rect x="602.5" y="105.5" width="3" height="5" fill="none" stroke="#b81426" stroke-width="1"/>
<rect x="609" y="102" width="1" height="1" fill="#b81426"/>
<rect x="609" y="106" width="1" height="1" fill="#b81426"/>
<rect x="607.5" y="103.5" width="3" height="2" fill="none" stroke="#b81426" stroke-width="1"/>
<rect x="613" y="97" width="1" height="1" fill="#b81426"/>
<rect x="613" y="103" width="1" height="6" fill="#b81426"/>
<rect x="611.5" y="98.5" width="3" height="4" fill="none" stroke="#b81426" stroke-width="1"/>
<rect x="618" y="102" width="1" height="4" fill="#b81426"/>
<rect x="616.5" y="98.5" width="3" height="3" fill="none" stroke="#b81426" stroke-width="1"/>
<rect x="623" y="95" width="1" height="5" fill="#b81426"/>
<rect x="621" y="98" width="4" height="1" fill="#b81426"/>
<rect x="628" y="94" width="1" height="13" fill="#0a7c0c"/>
<rect x="626" y="97" width="4" height="6" fill="#0a7c0c"/>
<rect x="631.5" y="94.5" width="3" height="11" fill="none" stroke="#b81426" stroke-width="1"/>
<rect x="638" y="83" width="1" height="12" fill="#b81426"/>
<rect x="636" y="91" width="4" height="2" fill="#b81426"/>
<rect x="640.5" y="79.5" width="3" height="9" fill="none" stroke="#b81426" stroke-width="1"/>
<rect x="647" y="70" width="1" height="4" fill="#b81426"/>
<rect x="647" y="77" width="1" height="3" fill="#b81426"/>
<rect x="645.5" y="74.5" width="3" height="2" fill="none" stroke="#b81426" stroke-width="1"/>
<rect x="652" y="68" width="1" height="1" fill="#b81426"/>
<rect x="650.5" y="69.5" width="3" height="8" fill="none" stroke="#b81426" stroke-width="1"/>
<rect x="655.5" y="53.5" width="3" height="14" fill="none" stroke="#b81426" stroke-width="1"/>
</g>
<polyline points="655.5,52.9 664,52.9 676.6,57.6" fill="none" stroke="#14149a" stroke-width="1.3"/>
<text x="677.6" y="68.6" font-size="12.4" fill="#3838c4" class="ls" textLength="58.8" lengthAdjust="spacingAndGlyphs" >3547.2200</text>
<line x1="130.5" y1="182.4" x2="140" y2="182.4" stroke="#2020b0" stroke-width="1"/>
<text x="140.4" y="183.4" font-size="12.4" fill="#3838c4" class="ls" textLength="58.6" lengthAdjust="spacingAndGlyphs" >3200.7500</text>
<line x1="70" y1="425.5" x2="704" y2="425.5" stroke="#a8a8a8" stroke-width="1" stroke-dasharray="4,2"/>
<g shape-rendering="crispEdges">
<rect x="72" y="423" width="1" height="3" fill="#c0242c"/>
<rect x="77" y="422" width="1" height="4" fill="#c0242c"/>
<rect x="82" y="420" width="1" height="6" fill="#c0242c"/>
<rect x="87" y="421" width="1" height="5" fill="#c0242c"/>
<rect x="91" y="422" width="1" height="4" fill="#c0242c"/>
<rect x="96" y="424" width="1" height="2" fill="#c0242c"/>
<rect x="101" y="425" width="1" height="1" fill="#c0242c"/>
<rect x="106" y="425" width="1" height="1" fill="#c03038"/>
<rect x="111" y="425" width="1" height="1" fill="#c03038"/>
<rect x="116" y="425" width="1" height="2" fill="#1f7f1f"/>
<rect x="120" y="425" width="1" height="7" fill="#1f7f1f"/>
<rect x="125" y="425" width="1" height="10" fill="#1f7f1f"/>
<rect x="130" y="425" width="1" height="8" fill="#1f7f1f"/>
<rect x="135" y="425" width="1" height="7" fill="#1f7f1f"/>
<rect x="140" y="425" width="1" height="6" fill="#1f7f1f"/>
<rect x="145" y="425" width="1" height="4" fill="#1f7f1f"/>
<rect x="149" y="425" width="1" height="2" fill="#1f7f1f"/>
<rect x="154" y="425" width="1" height="1" fill="#c03038"/>
<rect x="159" y="425" width="1" height="1" fill="#c03038"/>
<rect x="164" y="425" width="1" height="1" fill="#c03038"/>
<rect x="169" y="421" width="1" height="5" fill="#c0242c"/>
<rect x="174" y="417" width="1" height="9" fill="#c0242c"/>
<rect x="178" y="414" width="1" height="12" fill="#c0242c"/>
<rect x="183" y="413" width="1" height="13" fill="#c0242c"/>
<rect x="188" y="414" width="1" height="12" fill="#c0242c"/>
<rect x="193" y="414" width="1" height="12" fill="#c0242c"/>
<rect x="198" y="415" width="1" height="11" fill="#c0242c"/>
<rect x="203" y="415" width="1" height="11" fill="#c0242c"/>
<rect x="207" y="416" width="1" height="10" fill="#c0242c"/>
<rect x="212" y="420" width="1" height="6" fill="#c0242c"/>
<rect x="217" y="423" width="1" height="3" fill="#c0242c"/>
<rect x="222" y="424" width="1" height="2" fill="#c0242c"/>
<rect x="227" y="425" width="1" height="1" fill="#c03038"/>
<rect x="232" y="425" width="1" height="1" fill="#2a8a2a"/>
<rect x="236" y="425" width="1" height="2" fill="#1f7f1f"/>
<rect x="241" y="425" width="1" height="5" fill="#1f7f1f"/>
<rect x="246" y="425" width="1" height="6" fill="#1f7f1f"/>
<rect x="251" y="425" width="1" height="8" fill="#1f7f1f"/>
<rect x="256" y="425" width="1" height="8" fill="#1f7f1f"/>
<rect x="261" y="425" width="1" height="8" fill="#1f7f1f"/>
<rect x="265" y="425" width="1" height="9" fill="#1f7f1f"/>
<rect x="270" y="425" width="1" height="10" fill="#1f7f1f"/>
<rect x="275" y="425" width="1" height="11" fill="#1f7f1f"/>
<rect x="280" y="425" width="1" height="10" fill="#1f7f1f"/>
<rect x="285" y="425" width="1" height="10" fill="#1f7f1f"/>
<rect x="290" y="425" width="1" height="8" fill="#1f7f1f"/>
<rect x="294" y="425" width="1" height="6" fill="#1f7f1f"/>
<rect x="299" y="425" width="1" height="2" fill="#1f7f1f"/>
<rect x="304" y="425" width="1" height="1" fill="#c03038"/>
<rect x="309" y="425" width="1" height="1" fill="#c03038"/>
<rect x="314" y="425" width="1" height="1" fill="#c03038"/>
<rect x="319" y="425" width="1" height="1" fill="#c03038"/>
<rect x="323" y="425" width="1" height="1" fill="#c03038"/>
<rect x="328" y="425" width="1" height="1" fill="#2a8a2a"/>
<rect x="333" y="425" width="1" height="1" fill="#2a8a2a"/>
<rect x="338" y="425" width="1" height="1" fill="#2a8a2a"/>
<rect x="343" y="425" width="1" height="1" fill="#2a8a2a"/>
<rect x="348" y="425" width="1" height="1" fill="#2a8a2a"/>
<rect x="352" y="425" width="1" height="1" fill="#c03038"/>
<rect x="357" y="424" width="1" height="2" fill="#c0242c"/>
<rect x="362" y="424" width="1" height="2" fill="#c0242c"/>
<rect x="367" y="424" width="1" height="2" fill="#c0242c"/>
<rect x="372" y="425" width="1" height="1" fill="#c03038"/>
<rect x="377" y="425" width="1" height="1" fill="#c03038"/>
<rect x="381" y="425" width="1" height="2" fill="#1f7f1f"/>
<rect x="386" y="425" width="1" height="4" fill="#1f7f1f"/>
<rect x="391" y="425" width="1" height="3" fill="#1f7f1f"/>
<rect x="396" y="425" width="1" height="1" fill="#2a8a2a"/>
<rect x="401" y="425" width="1" height="1" fill="#c03038"/>
<rect x="406" y="423" width="1" height="3" fill="#c0242c"/>
<rect x="410" y="422" width="1" height="4" fill="#c0242c"/>
<rect x="415" y="420" width="1" height="6" fill="#c0242c"/>
<rect x="420" y="421" width="1" height="5" fill="#c0242c"/>
<rect x="425" y="424" width="1" height="2" fill="#c0242c"/>
<rect x="430" y="425" width="1" height="1" fill="#2a8a2a"/>
<rect x="435" y="425" width="1" height="4" fill="#1f7f1f"/>
<rect x="439" y="425" width="1" height="4" fill="#1f7f1f"/>
<rect x="444" y="425" width="1" height="3" fill="#1f7f1f"/>
<rect x="449" y="425" width="1" height="2" fill="#1f7f1f"/>
<rect x="454" y="425" width="1" height="7" fill="#1f7f1f"/>
<rect x="459" y="425" width="1" height="10" fill="#1f7f1f"/>
<rect x="464" y="425" width="1" height="14" fill="#1f7f1f"/>
<rect x="468" y="425" width="1" height="14" fill="#1f7f1f"/>
<rect x="473" y="425" width="1" height="15" fill="#1f7f1f"/>
<rect x="478" y="425" width="1" height="15" fill="#1f7f1f"/>
<rect x="483" y="425" width="1" height="15" fill="#1f7f1f"/>
<rect x="488" y="425" width="1" height="14" fill="#1f7f1f"/>
<rect x="493" y="425" width="1" height="14" fill="#1f7f1f"/>
<rect x="497" y="425" width="1" height="13" fill="#1f7f1f"/>
<rect x="502" y="425" width="1" height="13" fill="#1f7f1f"/>
<rect x="507" y="425" width="1" height="12" fill="#1f7f1f"/>
<rect x="512" y="425" width="1" height="7" fill="#1f7f1f"/>
<rect x="517" y="425" width="1" height="7" fill="#1f7f1f"/>
<rect x="522" y="425" width="1" height="4" fill="#1f7f1f"/>
<rect x="526" y="425" width="1" height="3" fill="#1f7f1f"/>
<rect x="531" y="425" width="1" height="4" fill="#1f7f1f"/>
<rect x="536" y="425" width="1" height="4" fill="#1f7f1f"/>
<rect x="541" y="425" width="1" height="1" fill="#2a8a2a"/>
<rect x="546" y="425" width="1" height="1" fill="#2a8a2a"/>
<rect x="551" y="423" width="1" height="3" fill="#c0242c"/>
<rect x="555" y="422" width="1" height="4" fill="#c0242c"/>
<rect x="560" y="422" width="1" height="4" fill="#c0242c"/>
<rect x="565" y="421" width="1" height="5" fill="#c0242c"/>
<rect x="570" y="421" width="1" height="5" fill="#c0242c"/>
<rect x="575" y="420" width="1" height="6" fill="#c0242c"/>
<rect x="580" y="419" width="1" height="7" fill="#c0242c"/>
<rect x="584" y="414" width="1" height="12" fill="#c0242c"/>
<rect x="589" y="410" width="1" height="16" fill="#c0242c"/>
<rect x="594" y="406" width="1" height="20" fill="#c0242c"/>
<rect x="599" y="404" width="1" height="22" fill="#c0242c"/>
<rect x="604" y="403" width="1" height="23" fill="#c0242c"/>
<rect x="609" y="402" width="1" height="24" fill="#c0242c"/>
<rect x="613" y="403" width="1" height="23" fill="#c0242c"/>
<rect x="618" y="404" width="1" height="22" fill="#c0242c"/>
<rect x="623" y="405" width="1" height="21" fill="#c0242c"/>
<rect x="628" y="409" width="1" height="17" fill="#c0242c"/>
<rect x="633" y="411" width="1" height="15" fill="#c0242c"/>
<rect x="638" y="412" width="1" height="14" fill="#c0242c"/>
<rect x="642" y="411" width="1" height="15" fill="#c0242c"/>
<rect x="647" y="410" width="1" height="16" fill="#c0242c"/>
<rect x="652" y="409" width="1" height="17" fill="#c0242c"/>
<rect x="657" y="406" width="1" height="20" fill="#c0242c"/>
<rect x="662" y="406" width="1" height="20" fill="#c0242c"/>
<rect x="667" y="407" width="1" height="19" fill="#c0242c"/>
<rect x="671" y="409" width="1" height="17" fill="#c0242c"/>
<rect x="676" y="412" width="1" height="14" fill="#c0242c"/>
<rect x="681" y="415" width="1" height="11" fill="#c0242c"/>
<rect x="686" y="418" width="1" height="8" fill="#c0242c"/>
<rect x="691" y="421" width="1" height="5" fill="#c0242c"/>
<rect x="696" y="424" width="1" height="2" fill="#c0242c"/>
</g>
<polyline points="72.1,410.2 79.6,407.2 87.1,405.2 93.2,406.5 101.4,407.6 112.3,407.9 117.7,410.6 123.2,414.7 130,416.5 138.2,417.4 145,417 150.4,415.4 161.3,414.7 166.7,414 170,412.4 176.8,406.5 183.6,403.1 193.1,400.7 202.7,399.3 208.1,399.7 216.3,401.5 224.5,401.8 234,402.5 242.2,405.9 251.7,408.9 262.6,412 270.7,415.1 275,416.5 280.4,417.4 285.9,419.5 291.3,419.5 296.8,418.1 302.2,416.8 311.8,416.1 321.3,415.7 332.2,417 348.5,417 356.7,416.1 362.1,414.7 368.9,415.7 378.5,416.8 385.4,419.2 393.6,419.2 401.8,417.4 408.6,415.7 415.4,413.4 420.8,413.4 427.7,415.1 434.5,417.8 439.9,419.5 446.7,419.2 450.8,418.1 456.2,422.9 461.7,427 468.5,431.7 475.3,435.1 482.1,437.9 490,439.5 498.6,441.9 504,442.6 509.2,442.5 530,441.6 538.6,442.5 547.3,441.6 550.4,440.6 561.2,438.8 569.4,437.2 577.6,435.5 583,432.4 588.5,428.3 595.4,420.8 603.6,415.7 611.8,411.3 620,406.5 624,405.2 630.8,404.9 637.7,403.4 644.5,399.3 651.3,397 658.1,392.3 664.9,387.9 670.3,386.3 682.6,386.3 690.7,388 700,389.3 704,389.6" fill="none" stroke="#000000" stroke-width="1" stroke-linejoin="round" shape-rendering="crispEdges"/>
<polyline points="72.1,410.2 79.6,408.9 87.8,407.9 100,407.6 112.3,407.9 120.5,409.7 130,411.6 138.2,413.4 145,414.7 154.5,415.1 166.7,414.7 170,414.7 176.8,412.7 183.6,410.2 193.1,407 202.7,403.8 210.8,401.8 224.5,401.8 234,402.1 242.2,403.8 251.7,405.6 262.6,407.9 270.7,410.2 275,411.6 281.8,412.9 290,415.7 296.8,416.5 343,416.5 370.3,416.5 380,416.5 388.2,417.4 396.3,417.4 404.5,416.8 414,415.7 424.9,414.7 434.5,416.1 442.6,416.8 450.8,416.8 459,419.5 468.5,423.3 475.3,426.3 482.1,429.3 490,432.8 498.6,436.5 505.4,438.5 515,440.6 525.8,441.5 536.7,442.4 544.9,442.4 553.1,441.3 561.2,440.6 569.4,439.6 577.6,438.8 585.7,435.8 590,434.5 596.8,431.1 603.6,427 610.4,423.3 617.2,419.5 624,416.1 630.8,413.4 637.7,410.2 644.5,407.2 651.3,404.2 658.1,401.1 664.9,397.7 671.7,394.7 678.5,392.3 685.3,390.9 693.5,389.8 704,390.2" fill="none" stroke="#00008c" stroke-width="1" stroke-linejoin="round" shape-rendering="crispEdges"/>
<text x="13.7 19.7 25.7 31.7 37.7 43.7 49.7 55.7 61.7" y="89.2" font-size="10.8" fill="#3c3c3c" class="ls">3461.5409</text>
<text x="13.7 19.7 25.7 31.7 37.7 43.7 49.7 55.7 61.7" y="210.2" font-size="10.8" fill="#3c3c3c" class="ls">3146.8553</text>
<text x="13.7 19.7 25.7 31.7 37.7 43.7 49.7 55.7 61.7" y="313.9" font-size="10.8" fill="#3c3c3c" class="ls">2860.7775</text>
<text x="13.7 19.7 25.7 31.7 37.7 43.7 49.7 55.7 61.7" y="333.9" font-size="10.8" fill="#3c3c3c" class="ls">207875590</text>
<text x="13.7 19.7 25.7 31.7 37.7 43.7 49.7 55.7 61.7" y="346.8" font-size="10.8" fill="#3c3c3c" class="ls">138583727</text>
<text x="19.7 25.7 31.7 37.7 43.7 49.7 55.7 61.7" y="359.5" font-size="10.8" fill="#3c3c3c" class="ls">69291863</text>
<text x="37.3 43.3 49.3 55.3 61.3" y="391.8" font-size="10.8" fill="#3c3c3c" class="ls">52.02</text>
<text x="37.3 43.3 49.3 55.3 61.3" y="406.1" font-size="10.8" fill="#3c3c3c" class="ls">32.12</text>
<text x="37.3 43.3 49.3 55.3 61.3" y="420.2" font-size="10.8" fill="#3c3c3c" class="ls">12.23</text>
<text y="434" font-size="10.8" fill="#3c3c3c" class="ls"><tspan x="37.6" font-size="15">-</tspan><tspan x="43.3 49.3 55.3 61.3">7.67</tspan></text>
<text y="18.4" font-size="12.4" fill="#0000a8" class="cj"><tspan x="3.0">日</tspan><tspan x="14.8" y="18.5" font-size="13.6" textLength="6.2" lengthAdjust="spacingAndGlyphs" stroke="#0000a8" stroke-width="0.3">K</tspan><tspan x="22.4" y="18.4">线</tspan></text>
<text x="70.6" y="10.8" font-size="9.3" fill="#979797" class="ls" >07-28</text>
<text x="126.6" y="10.8" font-size="9.3" fill="#979797" class="ls" >08-17</text>
<text x="193.6" y="10.8" font-size="9.3" fill="#979797" class="ls" >09-06</text>
<text x="261.8" y="10.8" font-size="9.3" fill="#979797" class="ls" >09-26</text>
<text x="329.6" y="10.8" font-size="9.3" fill="#979797" class="ls" >10-23</text>
<text x="396.8" y="10.8" font-size="9.3" fill="#979797" class="ls" >11-10</text>
<text x="464.4" y="10.8" font-size="9.3" fill="#979797" class="ls" >11-30</text>
<text x="532.6" y="10.8" font-size="9.3" fill="#979797" class="ls" >12-20</text>
<text x="600" y="10.8" font-size="9.3" fill="#979797" class="ls" >01-10</text>
<text x="667.8" y="10.8" font-size="9.3" fill="#979797" class="ls" >01-30</text>
<text x="736" y="10.8" font-size="9.3" fill="#979797" class="ls" >02-19</text>
<text x="70" y="26.2" font-size="12.8" fill="#000000" class="cj" textLength="52.6" lengthAdjust="spacingAndGlyphs" >极反通道</text>
<text x="141" y="26.7" font-size="12.4" fill="#c00010" class="ls" textLength="69.2" lengthAdjust="spacingAndGlyphs" >Tp=3411.5930</text>
<text x="219.4" y="26.7" font-size="12.4" fill="#0000a8" class="ls" textLength="70" lengthAdjust="spacingAndGlyphs" >Up=3311.1906</text>
<text x="299" y="26.7" font-size="12.4" fill="#000000" class="ls" textLength="71" lengthAdjust="spacingAndGlyphs" >Md=3197.8120</text>
<text x="377.8" y="26.7" font-size="12.4" fill="#0000a8" class="ls" textLength="70" lengthAdjust="spacingAndGlyphs" >Dn=3044.2812</text>
<text x="456.6" y="26.7" font-size="12.4" fill="#c00010" class="ls" textLength="65" lengthAdjust="spacingAndGlyphs" >Bt=2905.5251</text>
<text x="706.8" y="25.8" font-size="13" fill="#0000b4" class="sf" textLength="39.2" lengthAdjust="spacingAndGlyphs" stroke="#0000b4" stroke-width="0.3">1A0001</text>
<text x="755.4" y="26.2" font-size="12.8" fill="#0000b4" class="cj" textLength="51.4" lengthAdjust="spacingAndGlyphs" >上证指数</text>
<text x="3.2" y="382.6" font-size="13" fill="#0000b8" class="sf" textLength="26.6" lengthAdjust="spacingAndGlyphs" stroke="#0000b8" stroke-width="0.35">MACD</text>
<text x="75.2" y="382.8" font-size="11.9" fill="#000000" class="ls" textLength="49.5" lengthAdjust="spacingAndGlyphs" >DIF=22.53</text>
<text x="146.4" y="382.8" font-size="11.9" fill="#0000a8" class="ls" textLength="54.4" lengthAdjust="spacingAndGlyphs" >DEA=20.88</text>
<text x="217.6" y="382.8" font-size="11.9" fill="#c030c8" class="ls" textLength="56" lengthAdjust="spacingAndGlyphs" >MACD=3.31</text>
<rect x="704" y="371.5" width="102.5" height="73" fill="#fff"/>
<g>
<circle cx="735.3" cy="407.0" r="28.7" fill="#24e08c" stroke="#1848d8" stroke-width="1.7"/>
<polygon points="735.3,378.6 763.6,407 735.3,435.6 707,407" fill="#ffc81e" stroke="#2a7a2a" stroke-width="0.9"/>
<polygon points="735.3,378.6 721,393 721,421 735.3,435.6" fill="#ffd23c" stroke="#2a7a2a" stroke-width="0.7"/>
<polygon points="719.4,388.2 752,397 752,417 722,426 730,407" fill="#ff9a90" opacity="0.92"/>
<polygon points="718.2,385.2 725.6,388.8 719.2,393" fill="#e81818"/>
<polygon points="718.6,429.2 725.2,424.6 719.8,423" fill="#e81818"/>
<line x1="735.3" y1="378.4" x2="735.3" y2="435.8" stroke="#2a6a2a" stroke-width="1"/>
<line x1="706.6" y1="407" x2="720" y2="407" stroke="#2a6a2a" stroke-width="0.9"/>
<path id="ring" d="M757.52,426.34 A28.9,28.9 0 0 0 800.48,387.66 A28.9,28.9 0 0 0 757.52,426.34" fill="none"/>
<text font-size="8.2" fill="#2a2a34" class="sf" textLength="180.58" lengthAdjust="spacing"><textPath href="#ring" startOffset="0">12345678901234567890123456789012345678</textPath></text>
<filter id="halo" x="-20%" y="-40%" width="140%" height="180%"><feMorphology in="SourceAlpha" operator="dilate" radius="2.3" result="d"/><feGaussianBlur in="d" stdDeviation="0.5" result="b"/><feFlood flood-color="#ffffff"/><feComposite in2="b" operator="in" result="h"/><feMerge><feMergeNode in="h"/><feMergeNode in="h"/><feMergeNode in="SourceGraphic"/></feMerge></filter>
<g filter="url(#halo)">
<text x="715.2" y="413.6" font-size="26" font-style="italic" class="sf" textLength="50.6" lengthAdjust="spacingAndGlyphs" fill="#1414e0" stroke="#1414e0" stroke-width="0.7">gann</text>
<text x="765.8" y="413.6" font-size="17.4" font-weight="bold" class="ls" textLength="29.8" lengthAdjust="spacingAndGlyphs" fill="#e41414">360</text>
</g>
</g>
<line x1="807.5" y1="370" x2="807.5" y2="463" stroke="#808080" stroke-width="1"/>
<rect x="1" y="445" width="806" height="18" fill="#f2f2f6"/>
<line x1="1" y1="445.5" x2="807" y2="445.5" stroke="#9c9c9c" stroke-width="1"/>
<line x1="1.5" y1="445" x2="1.5" y2="463" stroke="#a8a8a8" stroke-width="1"/>
<rect x="4.5" y="448.5" width="15" height="12" fill="#fff" stroke="#000060" stroke-width="1"/>
<rect x="5" y="449" width="14" height="2.2" fill="#1010b0"/>
<line x1="6.3" y1="452.7" x2="18" y2="452.7" stroke="#000" stroke-width="1.2" stroke-dasharray="2,1"/>
<line x1="6.3" y1="455.2" x2="18" y2="455.2" stroke="#000" stroke-width="1.2" stroke-dasharray="2,1"/>
<line x1="6.3" y1="457.7" x2="18" y2="457.7" stroke="#000" stroke-width="1.2" stroke-dasharray="2,1"/>
<circle cx="30.1" cy="454" r="7.9" fill="#f01414"/>
<text x="30.1" y="457.9" font-size="10.5" fill="#ffe620" text-anchor="middle" class="cs" font-weight="bold">沪</text>
<text x="42.6" y="458.8" font-size="11" fill="#de2c34" class="dv" textLength="44.2" lengthAdjust="spacingAndGlyphs" >3546.50</text>
<text x="92.6" y="457.8" font-size="10.6" fill="#e01010" class="dv" textLength="10.2" lengthAdjust="spacingAndGlyphs" >▲</text>
<text x="103.8" y="458.8" font-size="11" fill="#de2c34" class="dv" textLength="32.6" lengthAdjust="spacingAndGlyphs" >45.14</text>
<text x="141.7" y="458.8" font-size="11" fill="#de2c34" class="dv" textLength="33.4" lengthAdjust="spacingAndGlyphs" >1.29%</text>
<text x="181.8" y="458.8" font-size="11" fill="#de2c34" class="dv" textLength="45" lengthAdjust="spacingAndGlyphs" >2820.92</text>
<text x="227.4" y="459.2" font-size="12" fill="#000" class="cj" >亿</text>
<circle cx="260.9" cy="454" r="7.9" fill="#f01414"/>
<text x="260.9" y="457.9" font-size="10.5" fill="#ffe620" text-anchor="middle" class="cs" font-weight="bold">深</text>
<text x="274.2" y="458.8" font-size="11" fill="#de2c34" class="dv" textLength="50.9" lengthAdjust="spacingAndGlyphs" >11555.25</text>
<text x="330.1" y="457.8" font-size="10.6" fill="#e01010" class="dv" textLength="10.2" lengthAdjust="spacingAndGlyphs" >▲</text>
<text x="342.7" y="458.8" font-size="11" fill="#de2c34" class="dv" textLength="30" lengthAdjust="spacingAndGlyphs" >42.17</text>
<text x="378.4" y="458.8" font-size="11" fill="#de2c34" class="dv" textLength="35.8" lengthAdjust="spacingAndGlyphs" >0.37%</text>
<text x="420.1" y="458.8" font-size="11" fill="#de2c34" class="dv" textLength="45.1" lengthAdjust="spacingAndGlyphs" >2393.70</text>
<line x1="467.2" y1="449" x2="467.2" y2="461" stroke="#101010" stroke-width="1.2"/>
<defs><linearGradient id="sb" x1="0" y1="0" x2="0" y2="1"><stop offset="0" stop-color="#f4f4f4"/><stop offset="1" stop-color="#dedede"/></linearGradient>
<linearGradient id="th" x1="0" y1="0" x2="0" y2="1"><stop offset="0" stop-color="#fbfbfb"/><stop offset="0.5" stop-color="#e6e6e6"/><stop offset="1" stop-color="#c4c4c4"/></linearGradient></defs>
<rect x="469.5" y="446" width="195" height="17" fill="url(#sb)"/>
<line x1="469.5" y1="446.8" x2="664.5" y2="446.8" stroke="#747474" stroke-width="1.8"/>
<line x1="470" y1="446" x2="470" y2="463" stroke="#5c5c5c" stroke-width="1.2"/>
<polygon points="475,454.6 478.2,451.6 478.2,457.6" fill="#303030"/>
<polygon points="642.2,454.4 638,450.8 638,458" fill="#505050"/>
<rect x="486.6" y="449.8" width="41" height="10.6" rx="1.6" fill="url(#th)" stroke="#8e8e8e" stroke-width="0.9"/>
<line x1="503.8" y1="451.4" x2="503.8" y2="457.2" stroke="#404040" stroke-width="1.1"/>
<line x1="506.5" y1="451.4" x2="506.5" y2="457.2" stroke="#404040" stroke-width="1.1"/>
<line x1="509.2" y1="451.4" x2="509.2" y2="457.2" stroke="#404040" stroke-width="1.1"/>
<polygon points="673.5,450.5 670.4,460 676.6,460" fill="#fff" stroke="#1a1a90" stroke-width="1"/>
<line x1="668.8" y1="460.4" x2="678.4" y2="460.4" stroke="#1a1a90" stroke-width="1.4"/>
<line x1="671.4" y1="456.6" x2="675.6" y2="456.6" stroke="#1a1a90" stroke-width="1"/>
<line x1="673.5" y1="447.6" x2="673.5" y2="451" stroke="#e02020" stroke-width="1.2"/>
<text x="685.4" y="458.9" font-size="12" fill="#101010" class="dv" textLength="68" lengthAdjust="spacingAndGlyphs" >SH600634,</text>
<text x="754" y="459.6" font-size="12" fill="#101010" class="cj" textLength="46.8" lengthAdjust="spacingAndGlyphs" >富控互动</text>
</svg></body></html>
